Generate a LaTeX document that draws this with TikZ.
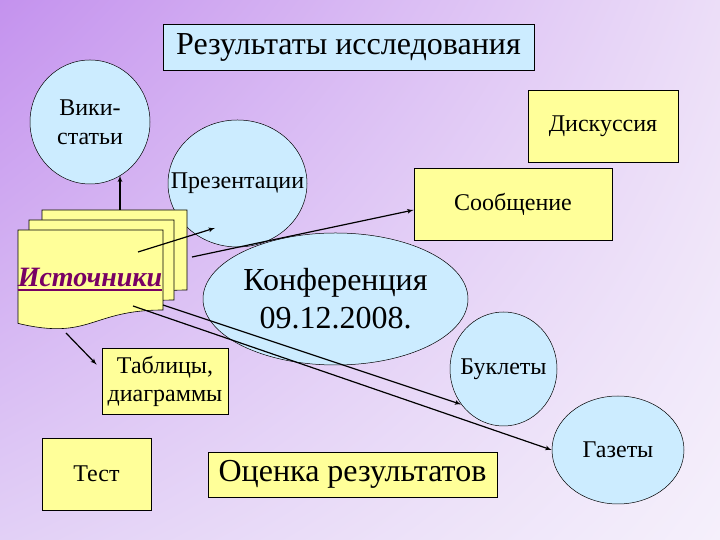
\documentclass[tikz,border=0pt]{standalone}
\usepackage{fontspec}
\newfontfamily\rufont{Liberation Serif}
\usepackage{tikz}
\usetikzlibrary{arrows}
\usetikzlibrary{positioning}
\usetikzlibrary{shapes.geometric}
\usetikzlibrary{shadings}
\definecolor{paleblue}{RGB}{204,236,255}
\definecolor{paleyellow}{RGB}{255,255,153}
\definecolor{srcpurple}{RGB}{120,0,100}
\definecolor{bgtl}{RGB}{196,146,238}
\definecolor{bgtr}{RGB}{236,222,248}
\definecolor{bgbl}{RGB}{226,208,246}
\definecolor{bgbr}{RGB}{245,240,251}

\begin{document}
\begin{tikzpicture}[%
x=1pt, y=1pt, >=latex',
result/.style={draw, shape=rectangle, fill=paleblue, line width=0.6pt, font=\rufont\fontsize{32}{38}\selectfont},
outcome/.style={draw, shape=ellipse, fill=paleblue, line width=0.5pt, inner sep=0pt, align=center, font=\rufont\fontsize{24}{29}\selectfont},
work/.style={draw, shape=rectangle, fill=paleyellow, line width=0.6pt, align=center, font=\rufont\fontsize{24}{28}\selectfont},
doc/.style={draw, fill=paleyellow, line width=0.6pt},
link/.style={->, line width=1.2pt}
]
\shade[upper left=bgtl, upper right=bgtr, lower left=bgbl, lower right=bgbr] (0,0) rectangle (720,540);

\node[result, minimum width=371, minimum height=46] (title) at (348.5,493) {Результаты исследования};
\node[outcome, minimum width=120, minimum height=124] (wiki) at (90,418) {Вики-\\статьи};
\node[work, minimum width=150, minimum height=72] (disc) at (603,414) {Дискуссия};
\node[work, minimum width=198, minimum height=72] (msg) at (513,336) {Сообщение};
\node[outcome, minimum width=139, minimum height=127] (pres) at (237.5,356.5) {\makebox[0pt]{Презентации}};
\node[outcome, minimum width=265, minimum height=132, font=\rufont\fontsize{32}{38}\selectfont] (conf) at (335.5,241) {Конференция\\09.12.2008.};

% stacked sheets
\foreach \dx/\dy in {42/330, 29/320, 18/310}
  \draw[doc] (\dx,\dy) -- (\dx+145,\dy) -- (\dx+145,\dy-80)
    .. controls (\dx+72.5,\dy-80) and (\dx+72.5,\dy-110.7) .. (\dx,\dy-93.4) -- cycle;
\node[font=\rufont\fontsize{28}{34}\selectfont\bfseries\itshape, text=srcpurple, anchor=base, inner sep=0pt] (src) at (90,253) {Источники};
\draw[srcpurple, line width=2pt] ([yshift=-3pt]src.base west) -- ([yshift=-3pt]src.base east);

\node[work, minimum width=126, minimum height=66] (tabl) at (165,159) {Таблицы,\\диаграммы};
\node[work, minimum width=109, minimum height=72] (test) at (96.5,66) {Тест};
\node[work, minimum width=289, minimum height=45, font=\rufont\fontsize{32}{38}\selectfont] (eval) at (352.5,65.5) {Оценка результатов};
\node[outcome, minimum width=107, minimum height=114] (bukl) at (503.5,171) {\makebox[0pt]{Буклеты}};
\node[outcome, minimum width=132, minimum height=108] (gaz) at (618,90) {Газеты};

\coordinate (s1) at (120,330);
\coordinate (s2) at (138,288);
\coordinate (s3) at (192,283);
\coordinate (s4) at (66,207);
\coordinate (s5) at (163,235);
\coordinate (s6) at (133,234);
\coordinate (p1) at (215,312);
\draw[link] (s1) -- (s1 |- wiki.-60);
\draw[link] (s2) -- (p1);
\draw[link] (s3) -- ([yshift=-6pt]msg.west);
\draw[link] (s4) -- ([xshift=-5pt,yshift=-17pt]tabl.north west);
\draw[link] (s5) -- (bukl.-140);
\draw[link] (s6) -- (gaz.west);
\end{tikzpicture}
\end{document}
